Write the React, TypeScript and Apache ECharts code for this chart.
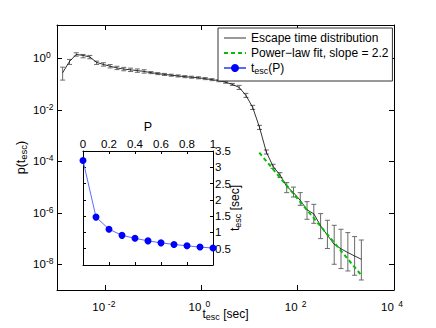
import React, { useEffect, useRef } from 'react';
import * as echarts from 'echarts';

// ---- Data ----
// Escape time distribution (bins of t_esc in seconds, density p(t_esc))
const escapeTime = [0.00131, 0.00182, 0.00251, 0.00348, 0.00481, 0.00665, 0.0092, 0.0127, 0.0176, 0.0244, 0.0337, 0.0467, 0.0646, 0.0893, 0.124, 0.171, 0.237, 0.327, 0.453, 0.627, 0.867, 1.2, 1.66, 2.3, 3.18, 4.4, 6.08, 8.41, 11.6, 16.1, 22.3, 30.8, 42.7, 59.0, 81.7, 113, 156, 216, 299, 414, 573, 793, 1100, 1520, 2100];
const density = [0.279, 0.764, 1.43, 1.31, 1.14, 0.7, 0.585, 0.498, 0.428, 0.387, 0.361, 0.336, 0.313, 0.281, 0.257, 0.239, 0.223, 0.209, 0.196, 0.186, 0.177, 0.164, 0.15, 0.137, 0.119, 0.0977, 0.0748, 0.0366, 0.0125, 0.00209, 2.3e-4, 6.4e-5, 2.99e-5, 1.07e-5, 6.08e-6, 3.05e-6, 1.31e-6, 9.14e-7, 3.13e-7, 1.34e-7, 5.98e-8, 4.0e-8, 2.84e-8, 2.1e-8, 1.56e-8];
const densityHigh = [0.459, 0.914, 1.66, 1.43, 1.31, 0.785, 0.681, 0.58, 0.498, 0.45, 0.42, 0.391, 0.364, 0.308, 0.281, 0.262, 0.244, 0.229, 0.215, 0.204, 0.194, 0.18, 0.164, 0.15, 0.13, 0.107, 0.0898, 0.0439, 0.015, 0.00251, 2.76e-4, 7.68e-5, 3.64e-5, 1.49e-5, 1.0e-5, 6.08e-6, 2.72e-6, 2.14e-6, 9.31e-7, 5.12e-7, 3.27e-7, 2.29e-7, 1.7e-7, 1.19e-7, 8.77e-8];
const densityLow = [0.144, 0.585, 1.23, 1.06, 0.973, 0.585, 0.503, 0.428, 0.368, 0.332, 0.31, 0.289, 0.269, 0.257, 0.235, 0.218, 0.204, 0.191, 0.179, 0.17, 0.162, 0.15, 0.137, 0.125, 0.109, 0.0892, 0.0623, 0.0305, 0.0104, 0.00174, 1.92e-4, 5.33e-5, 2.33e-5, 6.08e-6, 4.11e-6, 1.95e-6, 5.6e-7, 3.91e-7, 9.95e-8, 4.11e-8, 1.0e-8, 6.81e-9, 5.5e-9, 3.74e-9, 2.45e-9];

// Power-law fit (end points)
const fitTime = [15.9, 2100];
const fitDensity = [2.18e-4, 3.74e-9];

// Inset: t_esc(P)
const probP = [0, 0.1, 0.2, 0.3, 0.4, 0.5, 0.6, 0.7, 0.8, 0.9, 1.0];
const tEscOfP = [3.21, 1.47, 1.1, 0.91, 0.82, 0.74, 0.68, 0.63, 0.59, 0.55, 0.52];

// Tick exponents (decades)
const xTickExp = [-2, 0, 2, 4];
const yTickExp = [-8, -6, -4, -2, 0];

const NAME_MAIN = 'Escape time distribution';
const NAME_FIT = 'Power\u2212law fit, slope = 2.2';
const NAME_INSET = 't_esc(P)';

const FONT = '"Liberation Sans", Arial, Helvetica, sans-serif';

const lg = (v: number) => Math.log10(v);

const powRich = {
  b: { fontSize: 11.5, fontFamily: FONT, color: '#000', width: 13, lineHeight: 15, verticalAlign: 'middle' },
  s: { fontSize: 8.5, fontFamily: FONT, color: '#000', width: 13, lineHeight: 2, verticalAlign: 'top' },
};
const powFmt = (v: number) => {
  const e = Math.round(v);
  return `{b|10}{s|${e < 0 ? '-' + Math.abs(e) : String(e)}}`;
};

const subRich = (size: number) => ({
  n: { fontSize: size, fontFamily: FONT, color: '#000', lineHeight: 14, verticalAlign: 'middle' },
  s: { fontSize: size - 3, fontFamily: FONT, color: '#000', lineHeight: 2, verticalAlign: 'bottom' },
});

const frameAxis = (extra: any) => ({
  type: 'value',
  axisLine: { show: true, onZero: false, lineStyle: { color: '#000', width: 1 } },
  splitLine: { show: false },
  nameMoveOverlap: false,
  ...extra,
});

const hiddenSymbol = { color: 'rgba(0,0,0,0)', borderWidth: 0, opacity: 0 };

export default function App() {
  const ref = useRef<HTMLDivElement>(null);

  useEffect(() => {
    if (!ref.current) return;
    const chart = echarts.init(ref.current, undefined, { renderer: 'svg' });

    const mainLine = escapeTime.map((t, i) => [lg(t), lg(density[i])]);
    const errData = escapeTime.map((t, i) => [lg(t), lg(densityLow[i]), lg(densityHigh[i])]);
    const fitLine = fitTime.map((t, i) => [lg(t), lg(fitDensity[i])]);
    const insetLine = probP.map((p, i) => [p, tEscOfP[i]]);

    const option: any = {
      animation: false,
      backgroundColor: '#fff',
      textStyle: { fontFamily: FONT },
      grid: [
        { left: 57, top: 25, width: 337, height: 265, show: false, outerBoundsMode: 'none', containLabel: false },
        { left: 83, top: 151, width: 130, height: 114, show: true, backgroundColor: '#fff', borderWidth: 0, outerBoundsMode: 'none', containLabel: false },
      ],
      legend: {
        data: [
          { name: NAME_MAIN, itemStyle: hiddenSymbol, lineStyle: { width: 0.8 } },
          { name: NAME_FIT, itemStyle: hiddenSymbol },
          { name: NAME_INSET },
        ],
        orient: 'vertical',
        left: 218,
        top: 28,
        itemWidth: 22,
        itemHeight: 10,
        itemGap: 1,
        padding: [3, 4, 6, 5],
        backgroundColor: '#fff',
        borderColor: '#333',
        borderWidth: 1,
        borderRadius: 0,
        selectedMode: false,
        textStyle: {
          fontFamily: FONT,
          fontSize: 12,
          color: '#000',
          lineHeight: 14,
          width: 137,
          rich: subRich(12),
        },
        formatter: (name: string) => (name === NAME_INSET ? '{n|t}{s|esc}{n|(P)}' : name),
      },
      xAxis: [
        frameAxis({
          gridIndex: 0,
          min: -3,
          max: 4,
          position: 'bottom',
          axisTick: { show: true, inside: true, length: 5, customValues: xTickExp, lineStyle: { color: '#000' } },
          axisLabel: { customValues: xTickExp, formatter: powFmt, rich: powRich, margin: 9 },
          name: '{n|t}{s|esc}{n| [sec]}',
          nameLocation: 'middle',
          nameGap: 17,
          nameTextStyle: { rich: subRich(12) },
        }),
        frameAxis({
          gridIndex: 0,
          min: -3,
          max: 4,
          position: 'top',
          axisTick: { show: true, inside: true, length: 5, customValues: xTickExp, lineStyle: { color: '#000' } },
          axisLabel: { show: false },
        }),
        frameAxis({
          gridIndex: 1,
          min: 0,
          max: 1,
          interval: 0.2,
          position: 'top',
          axisTick: { show: true, inside: true, length: 3, lineStyle: { color: '#000' } },
          axisLabel: { fontSize: 11.5, margin: 1, color: '#000', fontFamily: FONT },
          name: 'P',
          nameLocation: 'middle',
          nameGap: 18,
          nameTextStyle: { fontSize: 12.5, color: '#000', fontFamily: FONT },
        }),
        frameAxis({
          gridIndex: 1,
          min: 0,
          max: 1,
          interval: 0.2,
          position: 'bottom',
          axisTick: { show: true, inside: true, length: 3, lineStyle: { color: '#000' } },
          axisLabel: { show: false },
        }),
      ],
      yAxis: [
        frameAxis({
          gridIndex: 0,
          min: -9,
          max: 1.3,
          position: 'left',
          axisTick: { show: true, inside: true, length: 5, customValues: yTickExp, lineStyle: { color: '#000' } },
          axisLabel: { customValues: yTickExp, formatter: powFmt, rich: powRich, align: 'left', margin: 24 },
          name: '{n|p(t}{s|esc}{n|)}',
          nameLocation: 'middle',
          nameGap: 29,
          nameTextStyle: { rich: subRich(12.5) },
        }),
        frameAxis({
          gridIndex: 0,
          min: -9,
          max: 1.3,
          position: 'right',
          axisTick: { show: true, inside: true, length: 5, customValues: yTickExp, lineStyle: { color: '#000' } },
          axisLabel: { show: false },
        }),
        frameAxis({
          gridIndex: 1,
          min: 0,
          max: 3.5,
          interval: 0.5,
          position: 'right',
          axisTick: { show: true, inside: true, length: 3, lineStyle: { color: '#000' } },
          axisLabel: { fontSize: 11.5, margin: 2, color: '#000', fontFamily: FONT, showMinLabel: false },
          name: '{n|t}{s|esc}{n| [sec]}',
          nameLocation: 'middle',
          nameGap: 15,
          nameRotate: 90,
          nameTextStyle: { rich: subRich(12) },
        }),
        frameAxis({
          gridIndex: 1,
          min: 0,
          max: 3.5,
          interval: 0.5,
          position: 'left',
          axisTick: { show: true, inside: true, length: 3, lineStyle: { color: '#000' } },
          axisLabel: { show: false },
        }),
      ],
      series: [
        {
          name: 'errorbars',
          type: 'custom',
          xAxisIndex: 0,
          yAxisIndex: 0,
          data: errData,
          encode: { x: 0, y: [1, 2] },
          z: 2,
          renderItem: (params: any, api: any) => {
            const x = api.value(0);
            const lo = api.coord([x, api.value(1)]);
            const hi = api.coord([x, api.value(2)]);
            const st = { stroke: '#6a6a6a', lineWidth: 1 };
            const cw = 2.5;
            return {
              type: 'group',
              children: [
                { type: 'line', shape: { x1: lo[0], y1: lo[1], x2: hi[0], y2: hi[1] }, style: st },
                { type: 'line', shape: { x1: lo[0] - cw, y1: lo[1], x2: lo[0] + cw, y2: lo[1] }, style: st },
                { type: 'line', shape: { x1: hi[0] - cw, y1: hi[1], x2: hi[0] + cw, y2: hi[1] }, style: st },
              ],
            };
          },
        },
        {
          name: NAME_MAIN,
          type: 'line',
          xAxisIndex: 0,
          yAxisIndex: 0,
          data: mainLine,
          symbol: 'none',
          lineStyle: { color: '#000', width: 0.8 },
          itemStyle: { color: '#000' },
          z: 3,
        },
        {
          name: NAME_FIT,
          type: 'line',
          xAxisIndex: 0,
          yAxisIndex: 0,
          data: fitLine,
          symbol: 'none',
          lineStyle: { color: '#00c000', width: 2, type: [4, 3] },
          itemStyle: { color: '#00c000' },
          z: 4,
        },
        {
          name: NAME_INSET,
          type: 'line',
          xAxisIndex: 2,
          yAxisIndex: 2,
          data: insetLine,
          symbol: 'circle',
          symbolSize: 7,
          itemStyle: { color: '#0000ff' },
          lineStyle: { color: '#5a6aff', width: 1 },
          z: 5,
        },
      ],
    };

    chart.setOption(option);
    return () => chart.dispose();
  }, []);

  return (
    <div
      ref={ref}
      style={{ position: 'absolute', left: 0, top: 0, width: 436, height: 328, background: '#fff' }}
    />
  );
}
